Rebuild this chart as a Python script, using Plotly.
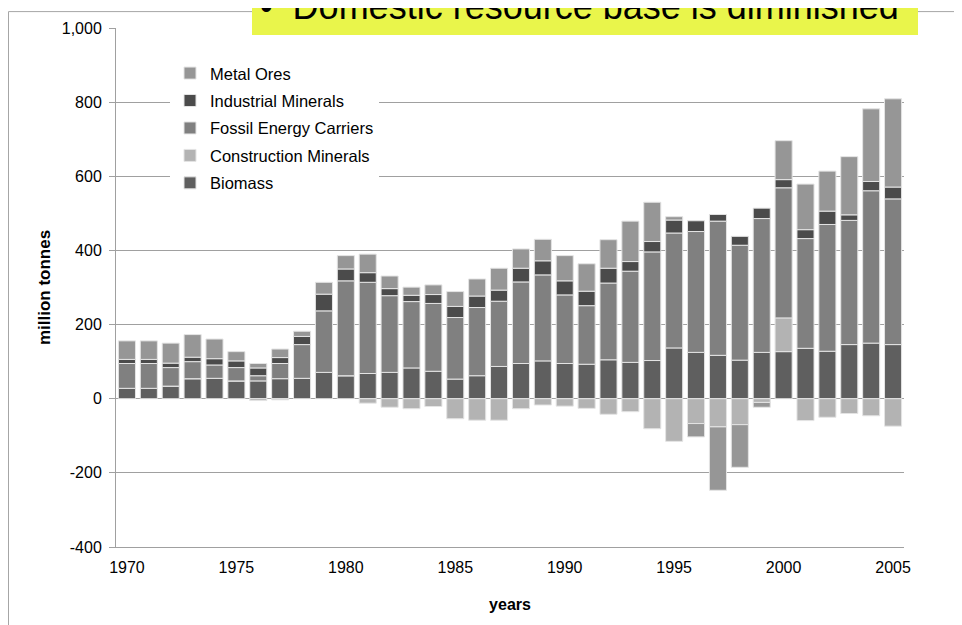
import plotly.graph_objects as go

years = list(range(1970, 2006))

biomass = [28, 28, 34, 54, 55, 48, 48, 54, 55, 71,
           62, 68, 71, 83, 74, 53, 62, 87, 95, 102,
           95, 93, 105, 98, 103, 137, 125, 117, 104, 125,
           127, 136, 128, 146, 150, 146]
construction = [0, 0, 0, 0, 0, 0, -5, -3, 0, 0,
                0, -12, -23, -27, -21, -54, -58, -58, -27, -17,
                -20, -26, -42, -35, -81, -115, -67, -76, -70, -10,
                91, -59, -50, -40, -46, -74]
fossil = [67, 67, 50, 46, 36, 36, 14, 41, 91, 166,
          256, 246, 207, 179, 183, 166, 184, 176, 220, 232,
          185, 158, 207, 246, 293, 310, 326, 362, 310, 361,
          351, 296, 342, 335, 411, 393]
industrial = [11, 11, 12, 12, 17, 18, 21, 16, 22, 45,
              32, 26, 19, 17, 24, 30, 31, 30, 37, 38,
              38, 39, 40, 26, 28, 35, 29, 18, 24, 28,
              22, 24, 36, 15, 25, 32]
metal = [50, 50, 54, 61, 53, 25, 12, 23, 14, 32,
         36, 50, 34, 22, 26, 40, 46, 59, 52, 58,
         68, 74, 77, 109, 106, 9, -36, -171, -115, -13,
         105, 123, 108, 157, 196, 238]

# (name, values, colour, legend rank)
series = [
    ("Biomass", biomass, "#5f5f5f", 5),
    ("Construction Minerals", construction, "#b3b3b3", 4),
    ("Fossil Energy Carriers", fossil, "#808080", 3),
    ("Industrial Minerals", industrial, "#4b4b4b", 2),
    ("Metal Ores", metal, "#969696", 1),
]

x_ticks = [1970, 1975, 1980, 1985, 1990, 1995, 2000, 2005]
y_ticks = [-400, -200, 0, 200, 400, 600, 800, 1000]

FONT = "Liberation Sans, Arial, sans-serif"

fig = go.Figure()
for name, vals, col, rank in series:
    fig.add_trace(go.Bar(
        x=years, y=vals, name=name, legendgroup=name, legendrank=rank,
        marker=dict(color=col, line=dict(color="#e4e4e4", width=1)),
    ))

W, H = 962, 625
OFF = 8  # page body margin: the figure starts 8px right/down on screen
ml, mt = 108, 17
pw, ph = 788, 522
mr = W - ml - pw
mb = H - mt - ph


def px(sx):
    return (sx - OFF - ml) / pw


def py(sy):
    return (H - mb - (sy - OFF)) / ph


fig.update_layout(
    width=W, height=H, autosize=False,
    margin=dict(l=ml, r=mr, t=mt, b=mb),
    paper_bgcolor="white", plot_bgcolor="white",
    barmode="relative", bargap=0.22,
    font=dict(family=FONT, size=16, color="#000000"),
    showlegend=True,
    legend=dict(
        x=px(170), y=py(53), xanchor="left", yanchor="top",
        bgcolor="white", traceorder="grouped", tracegroupgap=3,
        font=dict(family=FONT, size=16.5, color="#000000"),
    ),
    xaxis=dict(
        range=[1969.5, 2005.5], tickmode="array", tickvals=x_ticks,
        ticktext=[str(v) for v in x_ticks],
        showgrid=False, zeroline=False, showline=True, linecolor="#a0a0a0",
        ticks="", ticklabelstandoff=6,
        tickfont=dict(size=16),
        title=dict(text="<b>years</b>", font=dict(size=16), standoff=23),
    ),
    yaxis=dict(
        range=[-400, 1000], tickmode="array", tickvals=y_ticks,
        ticktext=[f"{v:,}" for v in y_ticks],
        showgrid=True, gridcolor="#a0a0a0", gridwidth=1,
        zeroline=True, zerolinecolor="#a0a0a0", zerolinewidth=1,
        showline=True, linecolor="#a0a0a0",
        ticks="outside", ticklen=6, tickcolor="#a0a0a0",
        tickfont=dict(size=16), ticklabelstandoff=4,
        title=dict(text="<b>million tonnes</b>", font=dict(size=17), standoff=6),
    ),
    shapes=[
        dict(type="rect", xref="paper", yref="paper",
             x0=px(8.5), x1=px(1100), y0=py(700), y1=py(8.5),
             line=dict(color="#a6a6a6", width=1), fillcolor="rgba(0,0,0,0)",
             layer="above"),
        dict(type="rect", xref="paper", yref="paper",
             x0=px(252), x1=px(918), y0=py(32), y1=py(-20),
             line=dict(width=0), fillcolor="#e9f54b", layer="above"),
    ],
    annotations=[
        dict(text="•\u00a0\u00a0Domestic resource base is diminished",
             xref="paper", yref="paper", x=px(258), y=py(3),
             xanchor="left", yanchor="middle", showarrow=False,
             font=dict(family=FONT, size=36, color="#000000")),
    ],
)

fig.write_html("out.html")
